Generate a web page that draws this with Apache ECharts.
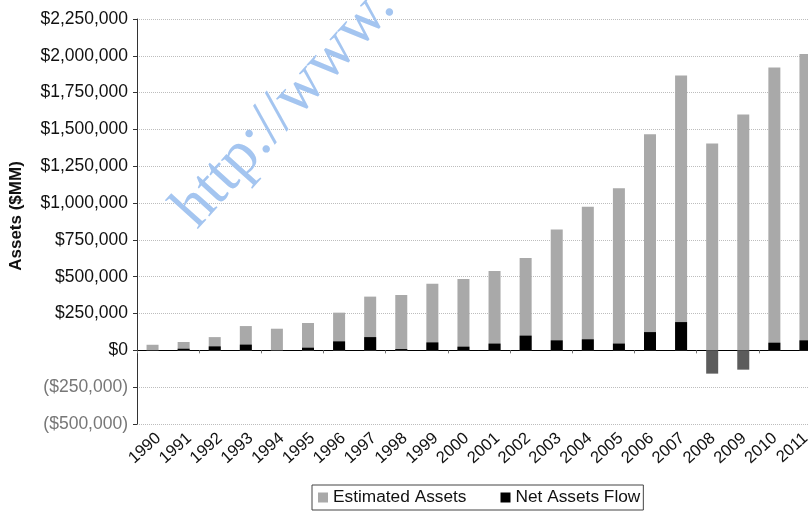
<!DOCTYPE html>
<html>
<head>
<meta charset="utf-8">
<script src="https://cdn.jsdelivr.net/npm/echarts@6/dist/echarts.min.js"></script>
<style>
html,body{margin:0;padding:0;background:#fff;overflow:hidden;}
#chart{width:821px;height:511px;}
</style>
</head>
<body>
<div id="chart"></div>
<script>
// ---- data ----
var years = ['1990','1991','1992','1993','1994','1995','1996','1997','1998','1999','2000','2001','2002','2003','2004','2005','2006','2007','2008','2009','2010','2011'];
var estimatedAssets = [38000, 57000, 90000, 165000, 147000, 186000, 256000, 365000, 376000, 453000, 485000, 539000, 627000, 820000, 975000, 1100000, 1467000, 1866000, 1404000, 1601000, 1920000, 2013000];
var netAssetsFlow = [2000, 11000, 27000, 39000, 1000, 18000, 61000, 90000, 9000, 54000, 25000, 46000, 100000, 68000, 75000, 46000, 124000, 192000, -158000, -131000, 52000, 68000];
var yMin = -500000, yMax = 2250000, yStep = 250000;
var seriesNames = ['Estimated Assets', 'Net Assets Flow'];
var yTitle = 'Assets ($MM)';
var watermark = 'http://www.';

function fmt(v) {
  var s = String(Math.abs(v)).replace(/\B(?=(\d{3})+(?!\d))/g, ',');
  return v < 0 ? '($' + s + ')' : '$' + s;
}

var chart = echarts.init(document.getElementById('chart'), null, {renderer: 'canvas'});
var FONT = '"Liberation Sans", Arial, sans-serif';
chart.setOption({
  animation: false,
  textStyle: {fontFamily: FONT},
  grid: [
    {left: 137, top: 19, bottom: 87, right: 0, containLabel: false},
    {left: 143, top: 19, bottom: 87, right: -6, containLabel: false}
  ],
  legend: {
    left: 312, top: 485,
    data: seriesNames,
    icon: 'rect', itemWidth: 10, itemHeight: 10, itemGap: 34,
    padding: [4, 3, 4, 6],
    borderColor: '#444', borderWidth: 1,
    textStyle: {fontSize: 17.3, color: '#111', fontFamily: FONT}
  },
  xAxis: [
    {
      type: 'category', data: years, position: 'bottom', gridIndex: 0,
      axisLine: {onZero: true, lineStyle: {color: '#000', width: 1}},
      axisTick: {show: true, length: 3, lineStyle: {color: '#777'}},
      axisLabel: {show: false},
      splitLine: {show: false}
    },
    {
      type: 'category', data: years, position: 'bottom', gridIndex: 1,
      axisLine: {show: false, onZero: false},
      axisTick: {show: false},
      axisLabel: {interval: 0, rotate: 42, fontSize: 16.5, margin: 12, color: '#111', fontFamily: FONT},
      splitLine: {show: false}
    }
  ],
  yAxis: [
    {
      type: 'value', min: yMin, max: yMax, interval: yStep, gridIndex: 0,
      axisLine: {show: true, lineStyle: {color: '#333'}},
      axisTick: {show: true, length: 4, lineStyle: {color: '#333'}},
      axisLabel: {
        margin: 9, fontSize: 17.5, fontFamily: FONT,
        formatter: fmt,
        color: function (v) { return Number(v) < 0 ? '#777' : '#111'; }
      },
      splitLine: {show: true, lineStyle: {type: 'dotted', color: '#bdbdbd', width: 1}}
    },
    {
      type: 'value', min: yMin, max: yMax, interval: yStep, gridIndex: 1, show: false
    }
  ],
  series: [
    {
      name: seriesNames[0], type: 'bar', xAxisIndex: 0, yAxisIndex: 0,
      data: estimatedAssets, barWidth: 12, barGap: '-100%',
      itemStyle: {color: '#a9a9a9'}, z: 2
    },
    {
      name: seriesNames[1], type: 'bar', xAxisIndex: 0, yAxisIndex: 0,
      data: netAssetsFlow.map(function (v) { return v < 0 ? {value: v, itemStyle: {color: '#5c5c5c'}} : v; }),
      barWidth: 12, barGap: '-100%',
      itemStyle: {color: '#000'}, z: 3
    }
  ],
  graphic: [
    {
      type: 'text', x: 16, y: 216, rotation: Math.PI / 2,
      style: {text: yTitle, font: 'bold 17px ' + FONT, fill: '#111', textAlign: 'center', textVerticalAlign: 'middle'}
    },
    {
      type: 'text', x: 208, y: 240, rotation: 48 * Math.PI / 180, z: 100,
      style: {text: watermark, font: '63px "Liberation Serif", "Times New Roman", serif', fill: '#a4c5f0', textAlign: 'left', textVerticalAlign: 'bottom'}
    }
  ]
});
</script>
</body>
</html>
